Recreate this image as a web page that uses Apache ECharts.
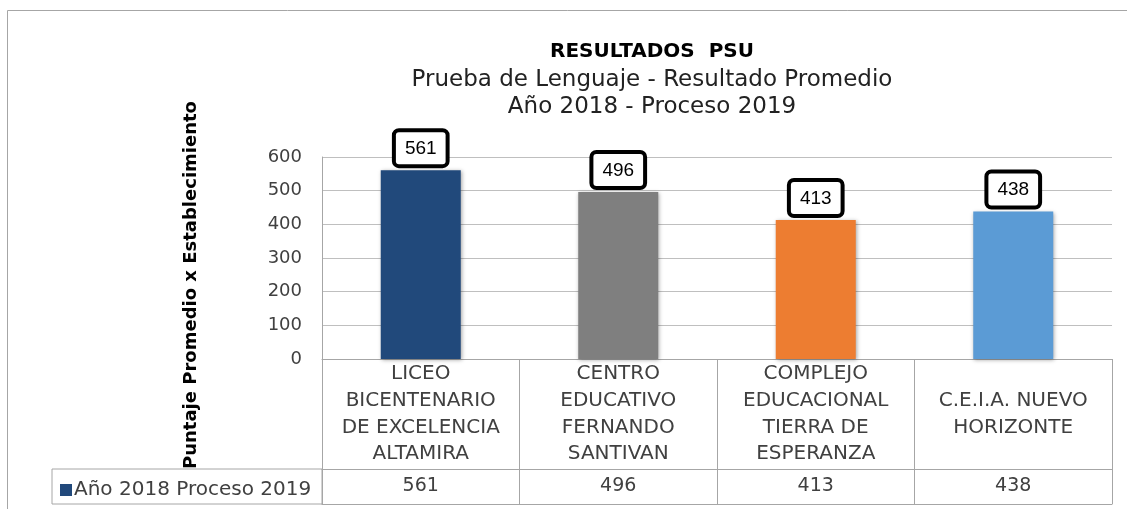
<!DOCTYPE html>
<html>
<head>
<meta charset="utf-8">
<script src="https://cdn.jsdelivr.net/npm/echarts@6/dist/echarts.min.js"></script>
<style>
  html, body { margin: 0; padding: 0; background: #fff; }
  #main { width: 1127px; height: 509px; }
</style>
</head>
<body>
<div id="main"></div>
<script>
// datos del gráfico
const categories = [
  'LICEO\nBICENTENARIO\nDE EXCELENCIA\nALTAMIRA',
  'CENTRO\nEDUCATIVO\nFERNANDO\nSANTIVAN',
  'COMPLEJO\nEDUCACIONAL\nTIERRA DE\nESPERANZA',
  'C.E.I.A. NUEVO\nHORIZONTE'
]
const seriesName = 'Año 2018 Proceso 2019'
const values = [561, 496, 413, 438]
const barColors = ['#21497b', '#7f7f7f', '#ed7d31', '#5b9bd5']
const yTicks = [0, 100, 200, 300, 400, 500, 600]

const FONT = 'DejaVu Sans'
const GRAY = '#a6a6a6'
const TXT = '#404040'

const mChart = echarts.init(document.getElementById('main'))

const options = {
  animation: false,
  textStyle: { fontFamily: FONT },
  title: [
    {
      text: 'RESULTADOS  PSU',
      left: 647,
      top: 37,
      textAlign: 'center',
      textStyle: { fontFamily: FONT, fontSize: 20, fontWeight: 'bold', color: '#000' }
    },
    {
      text: 'Prueba de Lenguaje - Resultado Promedio\nAño 2018 - Proceso 2019',
      left: 647,
      top: 62,
      textAlign: 'center',
      textStyle: { fontFamily: FONT, fontSize: 23, fontWeight: 'normal', color: '#222', lineHeight: 27 }
    }
  ],
  legend: {
    data: [seriesName],
    left: 55,
    top: 475,
    icon: 'rect',
    itemWidth: 12,
    itemHeight: 12,
    itemGap: 4,
    textStyle: { fontFamily: FONT, fontSize: 20, color: TXT, padding: [0, 0, 0, -3] }
  },
  grid: [
    { left: 322, right: 15, top: 157, height: 202 },
    // celda de la leyenda en la tabla
    { left: 52, top: 469, width: 270, height: 35, show: true, borderColor: GRAY, borderWidth: 1, backgroundColor: 'transparent' }
  ],
  xAxis: [
    {
      type: 'category',
      gridIndex: 0,
      data: categories,
      axisLine: { lineStyle: { color: GRAY } },
      axisTick: { show: true, length: 145, interval: 0, lineStyle: { color: GRAY } },
      axisLabel: {
        interval: 0,
        margin: 55,
        verticalAlign: 'middle',
        lineHeight: 26.7,
        fontSize: 20,
        fontFamily: FONT,
        color: TXT
      }
    },
    {
      // fila de valores de la tabla
      type: 'category',
      gridIndex: 0,
      position: 'bottom',
      offset: 110,
      data: values.map(String),
      axisLine: { show: true, lineStyle: { color: GRAY } },
      axisTick: { show: false },
      axisLabel: { interval: 0, margin: 17, verticalAlign: 'middle', fontSize: 19, fontFamily: FONT, color: TXT }
    },
    {
      type: 'category',
      gridIndex: 0,
      position: 'bottom',
      offset: 145,
      data: categories,
      axisLine: { show: true, lineStyle: { color: GRAY } },
      axisTick: { show: false },
      axisLabel: { show: false }
    },
    { type: 'value', gridIndex: 1, show: false }
  ],
  yAxis: [
    {
      type: 'value',
      gridIndex: 0,
      min: yTicks[0],
      max: yTicks[yTicks.length - 1],
      interval: 100,
      name: 'Puntaje Promedio x Establecimiento',
      nameLocation: 'middle',
      nameRotate: 90,
      nameGap: 122,
      nameTextStyle: { fontFamily: FONT, fontSize: 18, fontWeight: 'bold', color: '#000', padding: [0, 54, 0, 0] },
      axisLine: { show: true, lineStyle: { color: GRAY } },
      axisTick: { show: false },
      splitLine: { lineStyle: { color: '#bfbfbf' } },
      axisLabel: { margin: 20, fontSize: 18, fontFamily: FONT, color: TXT }
    },
    { type: 'value', gridIndex: 1, show: false }
  ],
  series: [
    {
      name: seriesName,
      type: 'bar',
      xAxisIndex: 0,
      yAxisIndex: 0,
      barWidth: 80,
      color: barColors[0],
      itemStyle: {
        shadowBlur: 4,
        shadowColor: 'rgba(0,0,0,0.35)',
        shadowOffsetX: 1,
        shadowOffsetY: 1
      },
      label: {
        show: true,
        position: 'top',
        distance: 6,
        fontFamily: 'Liberation Sans',
        fontSize: 19,
        color: '#000',
        backgroundColor: '#fff',
        borderColor: '#000',
        borderWidth: 4,
        borderRadius: 3,
        padding: [7, 9, 6, 9]
      },
      data: values.map((v, i) => ({ value: v, itemStyle: { color: barColors[i] } }))
    }
  ],
  graphic: [
    {
      // borde exterior del área del gráfico
      type: 'rect',
      silent: true,
      shape: { x: 7.5, y: 10.5, width: 1300, height: 600 },
      style: { fill: 'none', stroke: GRAY, lineWidth: 1 }
    }
  ]
}
mChart.setOption(options)
window.addEventListener('resize', () => {
  mChart.resize()
})
</script>
</body>
</html>
